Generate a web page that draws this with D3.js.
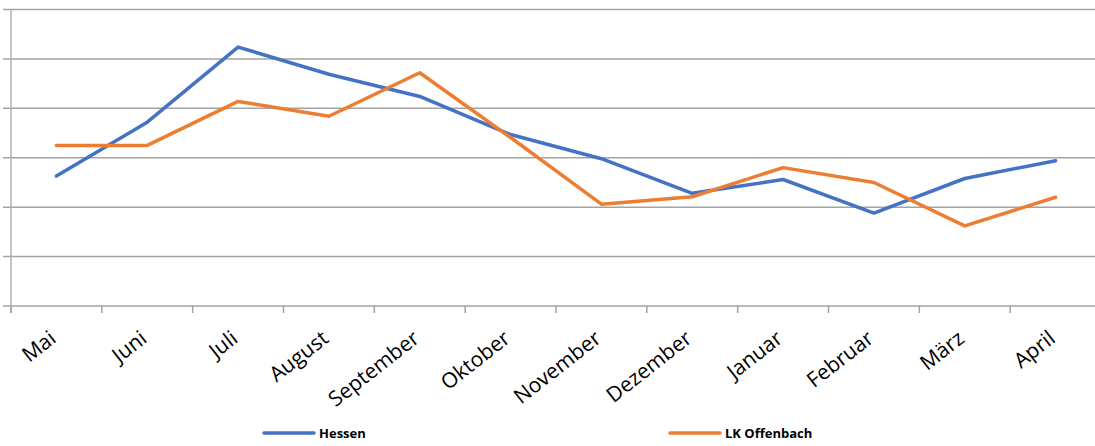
<!DOCTYPE html>
<html>
<head>
<meta charset="utf-8">
<script src="https://cdn.jsdelivr.net/npm/d3@7"></script>
<style>
  body { margin: 0; background: #fff; }
  svg { display: block; }
</style>
</head>
<body>
<svg width="1095" height="446"></svg>
<script>
// months and the two series (no y labels in the original, so arbitrary units)
var months = ["Mai", "Juni", "Juli", "August", "September", "Oktober", "November",
              "Dezember", "Januar", "Februar", "März", "April"];
var hessen = [2.63, 3.72, 5.24, 4.69, 4.24, 3.47, 2.98, 2.28, 2.56, 1.88, 2.58, 2.94];
var offenbach = [3.25, 3.25, 4.14, 3.84, 4.72, 3.41, 2.06, 2.21, 2.80, 2.50, 1.62, 2.20];
var yTicks = [0, 1, 2, 3, 4, 5, 6];

var svg = d3.select("svg");

// scales
var x = d3.scaleBand().domain(months).range([11, 1101]);
var y = d3.scaleLinear().domain([0, 6]).range([306, 9.5]);

// horizontal gridlines
svg.append("g")
  .selectAll("line")
  .data(yTicks)
  .enter()
  .append("line")
    .attr("x1", 3)
    .attr("x2", 1095)
    .attr("y1", function (d) { return y(d); })
    .attr("y2", function (d) { return y(d); })
    .attr("stroke", "#a3a3a3")
    .attr("stroke-width", 1.5);

// vertical axis line
svg.append("line")
  .attr("x1", 11).attr("x2", 11)
  .attr("y1", y(6)).attr("y2", y(0) + 7)
  .attr("stroke", "#b0b0b0")
  .attr("stroke-width", 1.5);

// tick marks at band boundaries
svg.append("g")
  .selectAll("line")
  .data(months)
  .enter()
  .append("line")
    .attr("x1", function (d) { return x(d); })
    .attr("x2", function (d) { return x(d); })
    .attr("y1", y(0))
    .attr("y2", y(0) + 7)
    .attr("stroke", "#a3a3a3")
    .attr("stroke-width", 1.5);

// month labels, rotated
svg.append("g")
  .selectAll("text")
  .data(months)
  .enter()
  .append("text")
    .attr("transform", function (d) {
      return "translate(" + (x(d) + x.bandwidth() / 2 + 1) + "," + 341 + ") rotate(-38)";
    })
    .attr("text-anchor", "end")
    .attr("font-family", "'Open Sans', sans-serif")
    .attr("font-size", 21)
    .attr("fill", "#000")
    .text(function (d) { return d; });

// lines
var line = d3.line()
  .x(function (d, i) { return x(months[i]) + x.bandwidth() / 2; })
  .y(function (d) { return y(d); });

var series = [
  { name: "Hessen", values: hessen, color: "#4472C4" },
  { name: "LK Offenbach", values: offenbach, color: "#ED7D31" }
];

svg.append("g")
  .selectAll("path")
  .data(series)
  .enter()
  .append("path")
    .attr("d", function (d) { return line(d.values); })
    .attr("fill", "none")
    .attr("stroke", function (d) { return d.color; })
    .attr("stroke-width", 3.5)
    .attr("stroke-linejoin", "round")
    .attr("stroke-linecap", "round");

// legend
var legendX = [264, 670];
var legend = svg.append("g")
  .selectAll("g")
  .data(series)
  .enter()
  .append("g")
    .attr("transform", function (d, i) { return "translate(" + legendX[i] + ",433)"; });

legend.append("line")
  .attr("x1", 0).attr("x2", 50)
  .attr("y1", 0).attr("y2", 0)
  .attr("stroke", function (d) { return d.color; })
  .attr("stroke-width", 3.5)
  .attr("stroke-linecap", "round");

legend.append("text")
  .attr("x", 55)
  .attr("y", 5)
  .attr("font-family", "'Open Sans', sans-serif")
  .attr("font-weight", "bold")
  .attr("font-size", 13)
  .attr("fill", "#000")
  .text(function (d) { return d.name; });
</script>
</body>
</html>
